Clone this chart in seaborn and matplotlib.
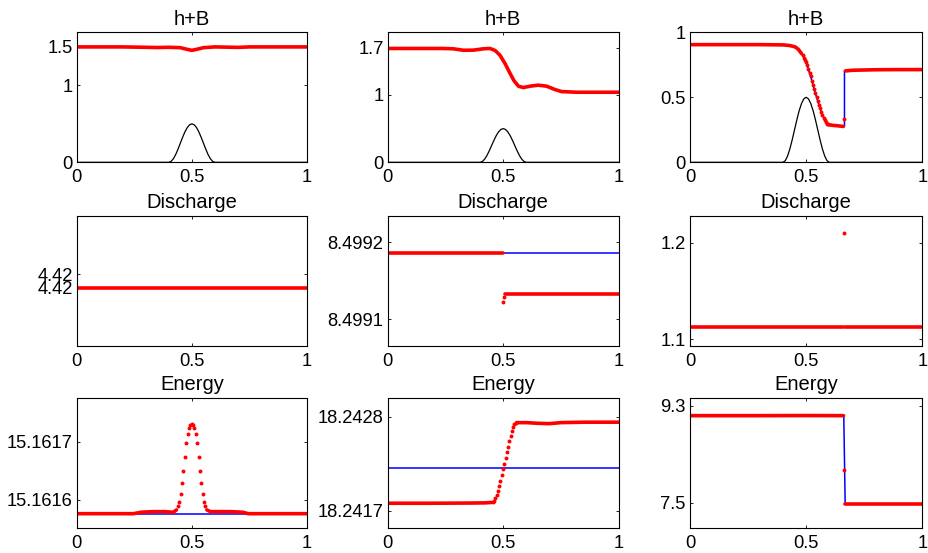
import numpy as np
import pandas as pd
import matplotlib
matplotlib.use("Agg")
import matplotlib.pyplot as plt
import seaborn as sns

# ---------------- data ----------------
row_titles = ["h+B", "Discharge", "Energy"]
x_ticks = [0, 0.5, 1]
x_ticklabels = ["0", "0.5", "1"]

# bottom topography B(x)
bump_x = [0.0, 0.40, 0.41, 0.42, 0.43, 0.44, 0.45, 0.46, 0.47, 0.48, 0.49, 0.50,
          0.51, 0.52, 0.53, 0.54, 0.55, 0.56, 0.57, 0.58, 0.59, 0.60, 1.0]
bump_y = [0.0, 0.0, 0.012, 0.048, 0.103, 0.173, 0.25, 0.327, 0.397, 0.452, 0.488, 0.5,
          0.488, 0.452, 0.397, 0.327, 0.25, 0.173, 0.103, 0.048, 0.012, 0.0, 0.0]

# h+B, case 1
hb1_x = [0, 0.1, 0.2, 0.3, 0.35, 0.4, 0.45, 0.47, 0.5, 0.53, 0.55, 0.6, 0.65, 0.7, 0.75, 0.85, 1.0]
hb1_y = [1.50, 1.50, 1.50, 1.495, 1.492, 1.495, 1.49, 1.475, 1.455, 1.475, 1.49, 1.50, 1.497, 1.494, 1.50, 1.50, 1.50]
hb1_yticks = [0, 1, 1.5]
hb1_ylabels = ["0", "1", "1.5"]

# h+B, case 2
hb2_x = [0, 0.1, 0.2, 0.24, 0.284, 0.328, 0.371, 0.414, 0.443, 0.465, 0.486, 0.508, 0.53,
         0.547, 0.566, 0.587, 0.616, 0.652, 0.688, 0.724, 0.753, 0.818, 1.0]
hb2_y = [1.69, 1.69, 1.69, 1.69, 1.685, 1.663, 1.665, 1.685, 1.69, 1.66, 1.59, 1.466, 1.318,
         1.21, 1.13, 1.11, 1.13, 1.145, 1.13, 1.08, 1.05, 1.04, 1.04]
hb2_yticks = [0, 1, 1.7]
hb2_ylabels = ["0", "1", "1.7"]

# h+B, case 3
hb3_left_x = [0, 0.2, 0.3, 0.402, 0.43, 0.452, 0.466, 0.48]
hb3_left_y = [0.905, 0.905, 0.905, 0.903, 0.898, 0.888, 0.870, 0.836]
hb3_dot_x = [0.485, 0.490, 0.495, 0.500, 0.505, 0.510, 0.515, 0.520, 0.525, 0.530, 0.535,
             0.540, 0.545, 0.550, 0.555, 0.560, 0.565, 0.570, 0.575, 0.580, 0.585, 0.590,
             0.595, 0.664]
hb3_dot_y = [0.822, 0.806, 0.790, 0.768, 0.745, 0.718, 0.690, 0.660, 0.628, 0.597, 0.565,
             0.532, 0.500, 0.470, 0.442, 0.414, 0.389, 0.365, 0.343, 0.323, 0.308, 0.298,
             0.292, 0.330]
hb3_mid_x = [0.600, 0.617, 0.64, 0.66]
hb3_mid_y = [0.288, 0.284, 0.280, 0.276]
hb3_right_x = [0.669, 0.70, 0.8, 0.9, 1.0]
hb3_right_y = [0.703, 0.708, 0.712, 0.713, 0.713]
hb3_blue_x = [0, 0.40, 0.43, 0.452, 0.466, 0.48, 0.495, 0.509, 0.524, 0.538, 0.552, 0.567,
              0.581, 0.595, 0.617, 0.665, 0.665, 0.70, 1.0]
hb3_blue_y = [0.905, 0.905, 0.90, 0.888, 0.870, 0.836, 0.79, 0.72, 0.631, 0.542, 0.458, 0.381,
              0.319, 0.294, 0.284, 0.276, 0.703, 0.708, 0.713]
hb3_yticks = [0, 0.5, 1]
hb3_ylabels = ["0", "0.5", "1"]

# Discharge, case 1
q1_x = [0.0, 1.0]
q1_y = [4.42, 4.42]
q1_yticks = [4.42, 4.42001]
q1_ylabels = ["4.42", "4.42"]

# Discharge, case 2
q2_blue_x = [0.0, 1.0]
q2_blue_y = [8.4991861, 8.4991861]
q2_left_x = [0.0, 0.5]
q2_left_y = [8.4991861, 8.4991861]
q2_right_x = [0.507, 1.0]
q2_right_y = [8.4991329, 8.4991329]
q2_dot_x = [0.500, 0.504]
q2_dot_y = [8.4991229, 8.4991294]
q2_yticks = [8.4991, 8.4992]
q2_ylabels = ["8.4991", "8.4992"]

# Discharge, case 3
q3_left_x = [0.0, 0.66]
q3_left_y = [1.113, 1.113]
q3_right_x = [0.668, 1.0]
q3_right_y = [1.113, 1.113]
q3_dot_x = [0.664]
q3_dot_y = [1.2103]
q3_yticks = [1.1, 1.2]
q3_ylabels = ["1.1", "1.2"]

# Energy, case 1
en1_blue_x = [0.0, 1.0]
en1_blue_y = [15.1615765, 15.1615765]
en1_left_x = [0, 0.246, 0.28, 0.33, 0.38, 0.42, 0.433]
en1_left_y = [15.1615765, 15.1615765, 15.161579, 15.161580, 15.161580, 15.161579, 15.161583]
en1_dot_x = [0.439, 0.445, 0.451, 0.457, 0.463, 0.469, 0.475, 0.481, 0.487, 0.493, 0.499,
             0.505, 0.511, 0.517, 0.523, 0.529, 0.535, 0.541, 0.547, 0.553, 0.559]
en1_dot_y = [15.161589, 15.161596, 15.161610, 15.161629, 15.161650, 15.161674, 15.161697,
             15.161714, 15.161724, 15.161729, 15.161730, 15.161729, 15.161724, 15.161714,
             15.161697, 15.161674, 15.161650, 15.161629, 15.161610, 15.161596, 15.161589]
en1_right_x = [0.565, 0.58, 0.62, 0.67, 0.72, 0.745, 1.0]
en1_right_y = [15.161583, 15.161580, 15.161580, 15.161580, 15.161579, 15.1615765, 15.1615765]
en1_yticks = [15.1616, 15.1617]
en1_ylabels = ["15.1616", "15.1617"]

# Energy, case 2
en2_blue_x = [0.0, 1.0]
en2_blue_y = [18.242196, 18.242196]
en2_left_x = [0, 0.2, 0.35, 0.42, 0.45]
en2_left_y = [18.241787, 18.241787, 18.241789, 18.241791, 18.241796]
en2_dot_x = [0.455, 0.4605, 0.466, 0.4715, 0.477, 0.4825, 0.488, 0.4935, 0.499, 0.5045,
             0.510, 0.5155, 0.521, 0.5265, 0.532, 0.5375, 0.543, 0.5485, 0.554]
en2_dot_y = [18.241796, 18.241815, 18.241844, 18.241881, 18.241928, 18.241985, 18.242051,
             18.242117, 18.242183, 18.242249, 18.242315, 18.242381, 18.242447, 18.242513,
             18.242579, 18.242636, 18.242683, 18.242711, 18.242725]
en2_right_x = [0.558, 0.6, 0.65, 0.7, 0.75, 0.85, 1.0]
en2_right_y = [18.242730, 18.242730, 18.242722, 18.242718, 18.242730, 18.242735, 18.242735]
en2_yticks = [18.2417, 18.2428]
en2_ylabels = ["18.2417", "18.2428"]

# Energy, case 3
en3_blue_x = [0.0, 0.662, 0.668, 1.0]
en3_blue_y = [9.114, 9.114, 7.476, 7.476]
en3_left_x = [0.0, 0.3, 0.5, 0.661]
en3_left_y = [9.114, 9.114, 9.116, 9.114]
en3_right_x = [0.669, 0.8, 1.0]
en3_right_y = [7.476, 7.476, 7.476]
en3_dot_x = [0.665]
en3_dot_y = [8.107]
en3_yticks = [7.5, 9.3]
en3_ylabels = ["7.5", "9.3"]

# ---------------- style ----------------
sns.set_style("ticks", {"xtick.direction": "in", "ytick.direction": "in"})
plt.rcParams["font.family"] = ["Liberation Sans", "DejaVu Sans"]
plt.rcParams.update({
    "xtick.top": True, "ytick.right": True,
    "xtick.major.size": 2.5, "ytick.major.size": 2.5,
    "xtick.major.width": 0.6, "ytick.major.width": 0.6,
    "xtick.major.pad": 5, "ytick.major.pad": 3,
    "axes.linewidth": 0.8, "axes.edgecolor": "black",
    "xtick.color": "black", "ytick.color": "black",
    "text.color": "black", "axes.labelcolor": "black", "axes.titlecolor": "black",
})

RED_LW = 2.6
DOT_S = 8
BLUE = "#0000ff"
RED = "#ff0000"

fig = plt.figure(figsize=(9.29, 5.53), dpi=100)
col_left = [0.0826, 0.4173, 0.7427]
col_w = [0.2479, 0.2487, 0.2501]
row_bottom = [0.7065, 0.3750, 0.0458]
row_h = [0.2351, 0.2349, 0.2351]


def lines_df(segs):
    rows = []
    for k, (xs, ys) in enumerate(segs):
        for a, b in zip(xs, ys):
            rows.append((a, b, k))
    return pd.DataFrame(rows, columns=["x", "y", "seg"])


def draw_lines(ax, segs, color, lw):
    df = lines_df(segs)
    sns.lineplot(data=df, x="x", y="y", units="seg", estimator=None, sort=False,
                 color=color, lw=lw, ax=ax, legend=False)


def draw_dots(ax, xs, ys):
    sns.scatterplot(x=xs, y=ys, color=RED, s=DOT_S, linewidth=0, ax=ax, legend=False, zorder=3)


panels = [
    (0, 0, [], [(hb1_x, hb1_y)], None, True, (0, 1.69), hb1_yticks, hb1_ylabels),
    (0, 1, [], [(hb2_x, hb2_y)], None, True, (0, 1.93), hb2_yticks, hb2_ylabels),
    (0, 2, [(hb3_blue_x, hb3_blue_y)],
     [(hb3_left_x, hb3_left_y), (hb3_mid_x, hb3_mid_y), (hb3_right_x, hb3_right_y)],
     (hb3_dot_x, hb3_dot_y), True, (0, 1), hb3_yticks, hb3_ylabels),
    (1, 0, [], [(q1_x, q1_y)], None, False, (4.4199566, 4.4200536), q1_yticks, q1_ylabels),
    (1, 1, [(q2_blue_x, q2_blue_y)], [(q2_left_x, q2_left_y), (q2_right_x, q2_right_y)],
     (q2_dot_x, q2_dot_y), False, (8.4990657, 8.4992345), q2_yticks, q2_ylabels),
    (1, 2, [], [(q3_left_x, q3_left_y), (q3_right_x, q3_right_y)],
     (q3_dot_x, q3_dot_y), False, (1.0934, 1.228), q3_yticks, q3_ylabels),
    (2, 0, [(en1_blue_x, en1_blue_y)], [(en1_left_x, en1_left_y), (en1_right_x, en1_right_y)],
     (en1_dot_x, en1_dot_y), False, (15.1615525, 15.1617755), en1_yticks, en1_ylabels),
    (2, 1, [(en2_blue_x, en2_blue_y)], [(en2_left_x, en2_left_y), (en2_right_x, en2_right_y)],
     (en2_dot_x, en2_dot_y), False, (18.241501, 18.243022), en2_yticks, en2_ylabels),
    (2, 2, [(en3_blue_x, en3_blue_y)], [(en3_left_x, en3_left_y), (en3_right_x, en3_right_y)],
     (en3_dot_x, en3_dot_y), False, (7.036, 9.448), en3_yticks, en3_ylabels),
]

for (r, c, blue, red, dots, bump, ylim, yt, yl) in panels:
    ax = fig.add_axes([col_left[c], row_bottom[r], col_w[c], row_h[r]])
    if bump:
        sns.lineplot(x=bump_x, y=bump_y, color="black", lw=0.9, ax=ax, sort=False,
                     estimator=None)
    if blue:
        draw_lines(ax, blue, BLUE, 1.1)
    draw_lines(ax, red, RED, RED_LW)
    if dots is not None:
        draw_dots(ax, dots[0], dots[1])
    ax.set_xlim(0, 1)
    ax.set_ylim(*ylim)
    ax.set_xticks(x_ticks)
    ax.set_xticklabels(x_ticklabels)
    ax.set_yticks(yt)
    ax.set_yticklabels(yl)
    ax.tick_params(labelsize=13.2, top=True, right=True, direction="in")
    ax.set_xlabel("")
    ax.set_ylabel("")
    for s in ax.spines.values():
        s.set_visible(True)
        s.set_color("black")
        s.set_linewidth(0.8)
    ax.set_title(row_titles[r], fontsize=14.5, pad=5.5, color="black")

fig.savefig("out.png", dpi=100)
